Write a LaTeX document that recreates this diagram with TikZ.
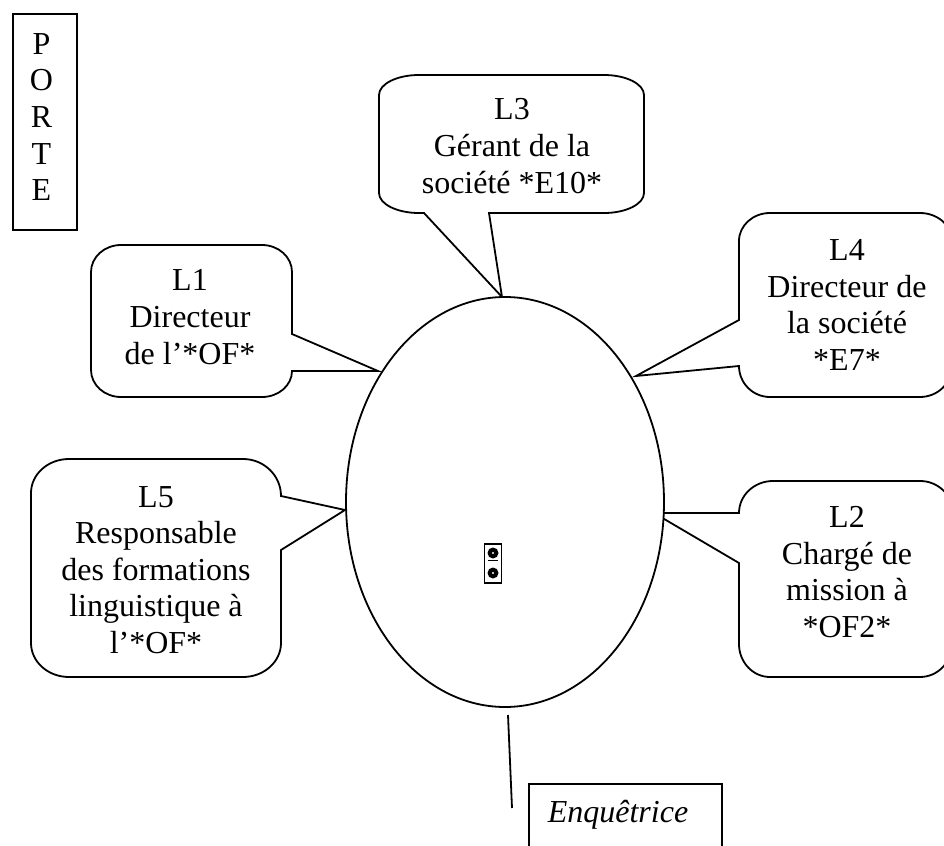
\documentclass[tikz,border=0pt]{standalone}
\usepackage{fontspec}
\setmainfont{Liberation Serif}
\usetikzlibrary{shapes.geometric}
\newcommand{\coin}[3]{arc[start angle=#1,delta angle=-90,x radius=#2*0.5pt,y radius=#3*0.5pt]}
\tikzset{
  bubble/.style={draw, line width=0.9pt, fill=white},
  bubbletext/.style={align=center, font=\fontsize{16}{18.3}\selectfont},
  boxnode/.style={draw, line width=1pt, anchor=north west, inner sep=0pt},
  prise/.style={circle, fill=black, minimum size=5.5pt, inner sep=0pt},
  trou/.style={circle, fill=white, minimum size=1.2pt, inner sep=0pt},
}
\begin{document}
\begin{tikzpicture}[x=0.5pt,y=-0.5pt]
  \useasboundingbox (0,0) rectangle (944,846);
  % porte et enquetrice
  \node at (12,13) [boxnode, minimum width=32pt, minimum height=108pt] (porte) {};
  \node at (41.5,117) [bubbletext] (portetext) {P\\O\\R\\T\\E};
  \begin{scope}
    \clip (0,0) rectangle (944,846);
    \node at (528,783) [boxnode, minimum width=96.5pt, minimum height=40pt] (enq) {};
    % bulles
    \draw[bubble] (424,213) -- (419,213) \coin{-90}{40}{20} -- (379,95) \coin{180}{40}{20} -- (604,75) \coin{90}{40}{20} -- (644,193) \coin{0}{40}{20} -- (489,213) -- (502,297) -- cycle;
    \draw[bubble] (292,371) \coin{0}{30}{26} -- (121,397) \coin{-90}{30}{27} -- (91,272) \coin{180}{30}{27} -- (262,245) \coin{90}{30}{27} -- (292,334) -- (378,371) -- cycle;
    \draw[bubble] (739,320) -- (739,241) \coin{180}{31}{28} -- (920,213) \coin{90}{32}{28} -- (952,366) \coin{0}{32}{31} -- (770,397) \coin{-90}{31}{31} -- (636,376) -- cycle;
    \draw[bubble] (739,513) \coin{180}{34}{32} -- (920,481) \coin{90}{32}{30} -- (952,644) \coin{0}{32}{33} -- (770,677) \coin{-90}{31}{33} -- (739,563) -- (654,513) -- cycle;
    \draw[bubble] (281,550) -- (281,643) \coin{0}{38}{34} -- (69,677) \coin{-90}{38}{34} -- (31,493) \coin{180}{38}{34} -- (243,459) \coin{90}{38}{37} -- (345,510) -- cycle;
  \end{scope}
  \node at (505,502) [ellipse, draw, fill=white, line width=0.9pt, minimum width=159pt, minimum height=205pt, inner sep=0pt] (salle) {};
  % textes
  \node at (512,146) [bubbletext] (L3) {L3\\Gérant de la\\société *E10*};
  \node at (190,317) [bubbletext] (L1) {L1\\Directeur\\de l'*OF*};
  \node at (847,305) [bubbletext] (L4) {L4\\Directeur de\\la société\\*E7*};
  \node at (847,572) [bubbletext] (L2) {L2\\Chargé de\\mission à\\*OF2*};
  \node at (156,570) [bubbletext] (L5) {L5\\Responsable\\des formations\\linguistique à\\l'*OF*};
  \node at (618,815) [bubbletext] (enqtext) {\itshape Enquêtrice};
  % micro
  \node at (493,563.5) [draw, line width=0.9pt, minimum width=8.5pt, minimum height=19.5pt, inner sep=0pt] (micro) {};
  \node at (493,553) [prise] (micro1) {};
  \node at (493,573) [prise] (micro2) {};
  \node at (493,553) [trou] (trou1) {};
  \node at (493,573) [trou] (trou2) {};
  \coordinate (b1) at (488,560.5);
  \coordinate (b2) at (498,560.5);
  \draw[line width=0.6pt] (b1) -- (b2);
  % trait
  \coordinate (t1) at (508,715);
  \coordinate (t2) at (512,808);
  \draw[line width=0.9pt] (t1) -- (t2);
\end{tikzpicture}
\end{document}
